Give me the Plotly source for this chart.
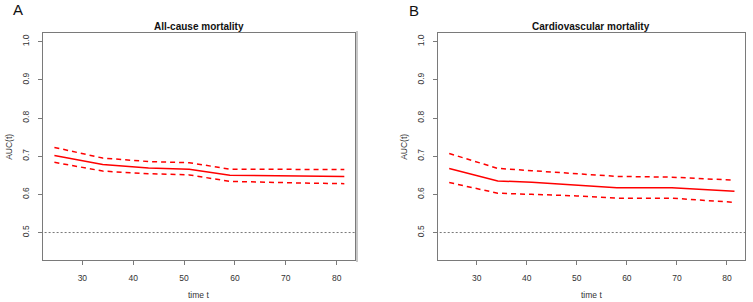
import plotly.graph_objects as go

# Panel A: All-cause mortality
time_a = [24.5, 34, 43, 51, 59, 64, 72, 81.5]
auc_a = [0.702, 0.678, 0.669, 0.666, 0.650, 0.649, 0.648, 0.647]
upper_a = [0.723, 0.695, 0.686, 0.683, 0.666, 0.666, 0.665, 0.665]
lower_a = [0.684, 0.661, 0.654, 0.651, 0.634, 0.632, 0.630, 0.628]

# Panel B: Cardiovascular mortality
time_b = [24.5, 34.2, 41, 50, 58, 69, 81.5]
auc_b = [0.668, 0.635, 0.632, 0.625, 0.617, 0.617, 0.608]
upper_b = [0.707, 0.668, 0.662, 0.655, 0.647, 0.645, 0.637]
lower_b = [0.631, 0.603, 0.600, 0.596, 0.590, 0.590, 0.579]

titles = ["All-cause mortality", "Cardiovascular mortality"]
panel_letters = ["A", "B"]
x_ticks = [30, 40, 50, 60, 70, 80]
y_ticks = [0.5, 0.6, 0.7, 0.8, 0.9, 1.0]
y_tick_text = ["0.5", "0.6", "0.7", "0.8", "0.9", "1.0"]
ref_level = 0.5

W, H = 753, 302
FONT = "Liberation Sans, Arial, sans-serif"
RED = "#ff0000"

fig = go.Figure()

panels = [
    (time_a, auc_a, upper_a, lower_a, "x", "y"),
    (time_b, auc_b, upper_b, lower_b, "x2", "y2"),
]
for t, a, u, l, xa, ya in panels:
    fig.add_trace(go.Scatter(x=t, y=u, mode="lines", xaxis=xa, yaxis=ya,
                             line=dict(color=RED, width=1.5, dash="5px,4px"), showlegend=False))
    fig.add_trace(go.Scatter(x=t, y=l, mode="lines", xaxis=xa, yaxis=ya,
                             line=dict(color=RED, width=1.5, dash="5px,4px"), showlegend=False))
    fig.add_trace(go.Scatter(x=t, y=a, mode="lines", xaxis=xa, yaxis=ya,
                             line=dict(color=RED, width=1.5), showlegend=False))
    fig.add_trace(go.Scatter(x=[21, 85], y=[ref_level, ref_level], mode="lines", xaxis=xa, yaxis=ya,
                             line=dict(color="#555555", width=0.8, dash="2px,2px"), showlegend=False))

ydom = [1 - 260 / H, 1 - 33.3 / H]
xdom_a = [42.7 / W, 355 / W]
xdom_b = [437.7 / W, 745 / W]

axis_common = dict(showgrid=False, zeroline=False, showline=True, mirror=True,
                   linecolor="#7a7a7a", linewidth=1, ticks="outside", ticklen=4,
                   tickcolor="#7a7a7a", tickfont=dict(family=FONT, size=8.5, color="#333333"))

xr = [22.2, 83.6]
yr = [0.428, 1.022]

fig.update_layout(
    width=W, height=H,
    margin=dict(l=0, r=0, t=0, b=0),
    paper_bgcolor="white", plot_bgcolor="white",
    xaxis=dict(domain=xdom_a, range=xr, tickvals=x_ticks, anchor="y", ticklabelstandoff=6,
               **axis_common),
    yaxis=dict(domain=ydom, range=yr, tickvals=y_ticks, ticktext=y_tick_text, tickangle=-90,
               anchor="x", ticklabelstandoff=5, **axis_common),
    xaxis2=dict(domain=xdom_b, range=xr, tickvals=x_ticks, anchor="y2", ticklabelstandoff=6,
                **axis_common),
    yaxis2=dict(domain=ydom, range=yr, tickvals=y_ticks, ticktext=y_tick_text, tickangle=-90,
                anchor="x2", ticklabelstandoff=5, **axis_common),
)

ann = []
for i, (xd, letter, title) in enumerate(zip([xdom_a, xdom_b], panel_letters, titles)):
    cx = (xd[0] + xd[1]) / 2
    ann.append(dict(text="<b>%s</b>" % title, x=cx, y=1 - 26.5 / H, xref="paper", yref="paper",
                    showarrow=False, font=dict(family=FONT, size=10, color="#111111"),
                    xanchor="center", yanchor="middle"))
    ann.append(dict(text="time t", x=cx, y=1 - 295 / H, xref="paper", yref="paper",
                    showarrow=False, font=dict(family=FONT, size=8.5, color="#333333"),
                    xanchor="center", yanchor="middle"))
    ann.append(dict(text="AUC(t)", x=xd[0] - 34.5 / W, y=(ydom[0] + ydom[1]) / 2, xref="paper",
                    yref="paper", showarrow=False, textangle=-90,
                    font=dict(family=FONT, size=8.5, color="#333333"),
                    xanchor="center", yanchor="middle"))
ann.append(dict(text="A", x=17.5 / W, y=1 - 9 / H, xref="paper", yref="paper", showarrow=False,
                font=dict(family=FONT, size=15, color="#111111"), xanchor="center", yanchor="middle"))
ann.append(dict(text="B", x=414 / W, y=1 - 10.5 / H, xref="paper", yref="paper", showarrow=False,
                font=dict(family=FONT, size=15, color="#111111"), xanchor="center", yanchor="middle"))
fig.update_layout(annotations=ann)

# light gray panel edge to the right of panel A
fig.add_shape(type="line", xref="paper", yref="paper", x0=357 / W, x1=357 / W,
              y0=1 - 262 / H, y1=1 - 31 / H, line=dict(color="#c8c8c8", width=2))

fig.write_html("out.html", config={"displayModeBar": False},
               post_script="document.body.style.margin='0';document.body.style.overflow='hidden';")
